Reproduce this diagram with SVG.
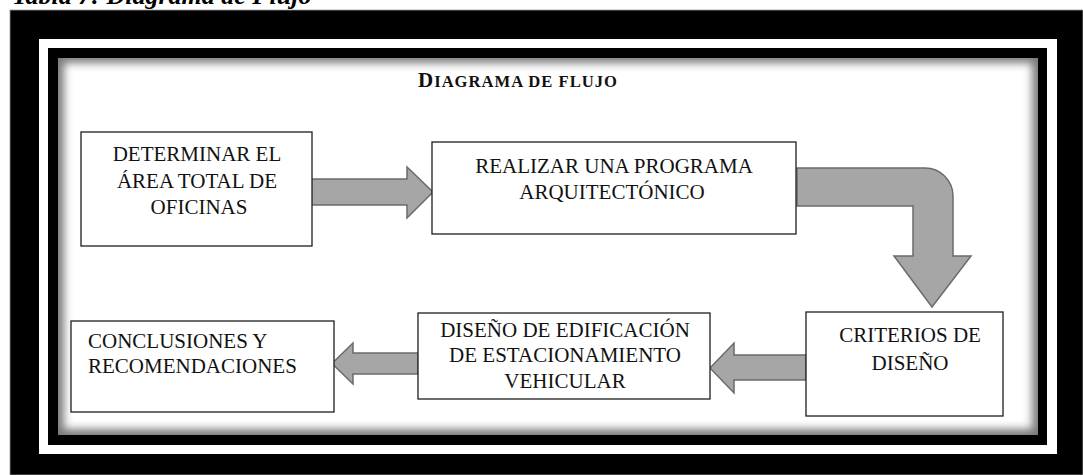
<svg xmlns="http://www.w3.org/2000/svg" width="1083" height="475" viewBox="0 0 1083 475">
<style>
.box{fill:#fff;stroke:#1e1e1e;stroke-width:1.3}
.arr{fill:#a6a6a6;stroke:#6b6b6b;stroke-width:1.5;stroke-linejoin:miter}
.t{font-family:"Liberation Serif","Times New Roman",serif;font-size:21px;fill:#111}
.c{text-anchor:middle}
</style>
<defs>
<clipPath id="ic"><rect x="58" y="58" width="980" height="377"/></clipPath>
<filter id="bl" x="-5%" y="-10%" width="110%" height="120%"><feGaussianBlur stdDeviation="4"/></filter>
</defs>
<rect width="1083" height="475" fill="#fff"/>
<text x="12" y="4" font-family="'Liberation Serif','Times New Roman',serif" font-size="26" font-weight="bold" font-style="italic" fill="#000">Tabla 7: Diagrama de Flujo</text>
<g id="frame">
<rect x="10" y="10" width="1073" height="465" fill="#000" stroke="#999" stroke-width="0.8"/>
<rect x="39" y="39" width="1018" height="415" fill="#fff"/>
<rect x="48" y="48" width="999" height="397" fill="#000"/>
<g clip-path="url(#ic)">
<rect x="58" y="58" width="980" height="377" fill="#7a7a7a"/>
<rect x="64" y="63" width="968" height="366" fill="#fff" filter="url(#bl)"/>
</g>
</g>
<text x="418" y="87" font-family="'Liberation Serif','Times New Roman',serif" font-weight="bold" fill="#111" letter-spacing="1"><tspan font-size="21">D</tspan><tspan font-size="16.6">IAGRAMA DE FLUJO</tspan></text>
<g id="connectors">
<path class="arr" d="M311,179 H407 V167 L433,192 L407,218 V205 H311 Z"/>
<path class="arr" d="M797,168 H925 A28,28 0 0 1 953,196 V256 H971 L932,307 L894,256 H913 V206 H797 Z"/>
<path class="arr" d="M806,355 H734 V343 L710,368 L734,393 V380 H806 Z"/>
<path class="arr" d="M418,353 H353 V343 L332,363.5 L353,384 V374 H418 Z"/>
</g>
<g id="n1">
<rect class="box" x="81" y="132" width="231" height="114"/>
<text class="t c" x="197" y="161">DETERMINAR EL</text>
<text class="t c" x="197" y="188">ÁREA TOTAL DE</text>
<text class="t c" x="199" y="214">OFICINAS</text>
</g>
<g id="n2">
<rect class="box" x="432" y="142" width="364" height="92"/>
<text class="t c" x="614" y="173">REALIZAR UNA PROGRAMA</text>
<text class="t c" x="612" y="199">ARQUITECTÓNICO</text>
</g>
<g id="n3">
<rect class="box" x="806" y="312" width="197" height="104"/>
<text class="t c" x="910" y="342">CRITERIOS DE</text>
<text class="t c" x="910" y="370">DISEÑO</text>
</g>
<g id="n4">
<rect class="box" x="418" y="313" width="292" height="86"/>
<text class="t c" x="565" y="337">DISEÑO DE EDIFICACIÓN</text>
<text class="t c" x="565" y="362">DE ESTACIONAMIENTO</text>
<text class="t c" x="565" y="388">VEHICULAR</text>
</g>
<g id="n5">
<rect class="box" x="71" y="321" width="263" height="91"/>
<text class="t" x="88" y="348">CONCLUSIONES Y</text>
<text class="t" x="88" y="373">RECOMENDACIONES</text>
</g>
</svg>
